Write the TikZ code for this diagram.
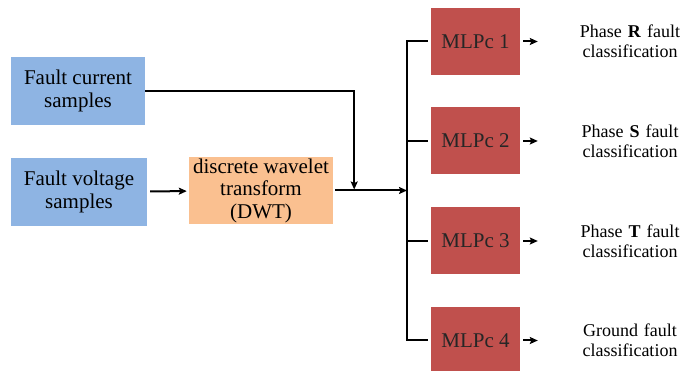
\documentclass[tikz,border=0pt]{standalone}
\usepackage{fontspec}
\setmainfont{Liberation Serif}
\newfontfamily\figserif{Liberation Serif}
\usepackage{tikz}
\usetikzlibrary{positioning, arrows.meta, calc}
\definecolor{cIn}{HTML}{8EB4E3}
\definecolor{cDwt}{HTML}{FAC090}
\definecolor{cMlp}{HTML}{C0504D}

\begin{document}
\begin{tikzpicture}[
  x=1pt, y=1pt,
  inbox/.style={fill=cIn, minimum width=134pt, minimum height=68pt,
                align=center, inner sep=0pt,
                font=\figserif\fontsize{21}{23}\selectfont},
  dwtbox/.style={fill=cDwt, minimum width=144pt, minimum height=67pt,
                 align=center, inner sep=0pt,
                 font=\figserif\fontsize{21}{22.5}\selectfont},
  mlpbox/.style={fill=cMlp, minimum width=89pt, minimum height=67pt,
                 inner sep=0pt, text=black!85,
                 font=\figserif\fontsize{21}{23}\selectfont},
  outlab/.style={text width=110pt, align=center, inner sep=0pt,
                 font=\figserif\fontsize{18}{20}\selectfont},
  wire/.style={line width=2pt, black},
  flow/.style={wire, -{Stealth[length=8pt,width=7pt,inset=1.5pt]}},
]
\clip (0,0) rectangle (681,370);
\useasboundingbox (0,0) rectangle (681,370);

% =========================================================================
% Inputs and the wavelet stage
% =========================================================================
\node[inbox] (cur) at (78,279) {Fault current\\samples};
\node[inbox, minimum width=136pt] (volt) at (79,178) {Fault voltage\\samples};
\node[dwtbox] (dwt) at (261,179.5) {discrete wavelet\\transform\\(DWT)};

% ---- four classifiers, 100pt apart --------------------------------------
\foreach \i/\y in {1/328.5, 2/229, 3/129, 4/29.5}{
  \node[mlpbox] (m\i) at (475.5,\y) {MLPc \i};
}
\node[outlab] (o1) at (630,328.5) {Phase \textbf{R} fault\\classification};
\node[outlab] (o2) at (630,229)   {Phase \textbf{S} fault\\classification};
\node[outlab] (o3) at (630,129)   {Phase \textbf{T} fault\\classification};
\node[outlab] (o4) at (630,29.5)  {Ground fault\\classification};

% =========================================================================
% Connectors: feature line, bus, branches, outputs
% =========================================================================
\coordinate (bt) at (407,328.5);
\coordinate (bb) at (407,29.5);
\coordinate (join) at ([xshift=21pt]dwt.east);

\draw[flow, shorten <=3pt, shorten >=2pt] (volt) -- (dwt);
\draw[flow, shorten >=1pt] (cur.east) -| (join);
\draw[flow, shorten <=2pt] (dwt.east) -- (dwt.east -| bt);
\draw[wire, line cap=rect] (bt) -- (bb);

\foreach \i in {1,...,4}{
  \draw[wire, shorten >=3pt] (m\i.west -| bt) -- (m\i.west);
  \draw[flow, shorten <=3pt, shorten >=37pt] (m\i) -- (o\i);
}

\end{tikzpicture}
\end{document}
